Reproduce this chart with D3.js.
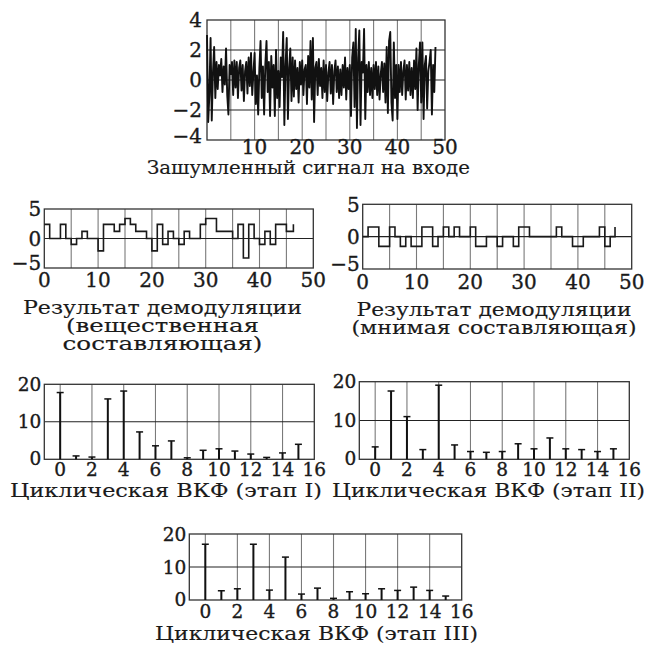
<!DOCTYPE html>
<html><head><meta charset="utf-8">
<script src="https://cdn.jsdelivr.net/npm/d3@7/dist/d3.min.js"></script>
<style>
body{margin:0;background:#fff}
svg text{font-family:"DejaVu Serif",serif;fill:#1a1a1a;stroke:#1a1a1a;stroke-width:0.35px}
svg text.title{stroke-width:0.15px}
</style>
</head><body>
<svg id="chart" width="656" height="657"></svg>
<script>
// ---------- DATA ----------
// Noisy input signal, one sample every 0.25 time units (t = 0 ... 48)
const noisySampleStep = 0.25;
const noisySignal = [
  3.0,-2.8,-1.0,2.8,  -2.7,0.5,2.2,-1.2,  1.2,-0.6,1.0,0.3,  1.4,-0.8,0.9,-0.3,
  2.1,-1.0,-2.3,1.0,  0.4,1.2,-1.0,1.3,  -0.5,1.2,-1.2,0.8,  1.3,-0.7,1.0,-1.4,
  0.6,1.2,-0.9,1.5,  -0.4,1.8,-1.0,0.5,  1.8,-1.6,0.3,-2.3,  0.8,2.6,-1.2,0.9,
  -2.3,1.0,2.6,-0.8,  1.2,-2.4,1.6,-0.5,  1.0,-2.4,2.0,-1.2,  0.6,-1.8,1.5,0.2,
  3.2,-3.0,1.0,2.8,  -2.6,0.8,2.1,-1.4,  1.5,-1.1,1.3,-0.6,  0.8,-1.5,1.2,-0.3,
  1.3,-1.0,0.7,1.0,  -1.6,1.6,-0.5,2.6,  -1.3,2.8,-2.8,0.8,  1.2,-1.0,1.4,-0.4,
  0.8,-1.2,1.3,-0.8,  1.0,-1.4,0.5,1.2,  -0.9,1.0,-1.6,0.6,  1.3,-0.8,0.9,-1.2,
  0.7,-1.0,1.0,-0.5,  1.5,-1.3,0.8,-0.6,  1.0,-2.4,1.5,2.5,  -1.8,3.4,-3.2,1.5,
  3.3,-3.0,1.2,0.5,  3.4,-2.6,1.0,-0.8,  1.2,-1.0,0.8,-1.2,  1.0,-0.6,1.2,-1.0,
  0.9,-1.3,0.4,1.2,  -0.8,1.1,-1.5,2.2,  -2.2,2.6,3.2,-1.5,  -2.7,2.5,-1.2,1.0,
  -2.6,1.0,-0.8,1.2,  -1.0,0.6,1.3,-1.3,  1.0,-0.7,1.2,-1.0,  0.8,-1.2,1.3,-0.6,
  2.1,-2.0,1.0,2.5,  -1.5,2.5,-2.6,1.0,  1.6,-1.9,0.6,1.2,  2.0,-2.3,1.0,-0.8,
  2.2
];

// Demodulated real part: one value per unit step starting at t = 0
const realDemod = [
  2.4,0,0,2.4,0,-1,0,1.2,0,0,
  -2.1,2.4,2.4,1.2,2.4,3.4,2.4,1.2,1.2,0,
  -2.1,2.4,-1,1.2,0,-1,1.2,0,0,2.4,
  3.4,3.4,1.2,1.2,1.2,0,2.4,-3.3,2.4,0,
  -1,1.2,-1,2.4,2.4,1.2
];
const realEndPoint = [46.3, 2.4];

// Demodulated imaginary part
const imagDemod = [
  0,1.5,1.5,-1.5,-1.5,1.5,0,-1.5,0,-1.5,
  -1.5,1.5,1.5,-1.5,0,1.5,0,1.5,0,0,
  1.5,-1.5,-1.5,0,0,-1.5,0,0,-1.5,1.5,
  1.5,0,0,0,0,0,1.5,0,0,-1.5,
  -1.5,0,0,0,1.5,-1.5,0
];
const imagEndPoint = [46.9, 1.5];

// Cyclic cross-correlation function, lags 0..15
const lags = [0,1,2,3,4,5,6,7,8,9,10,11,12,13,14,15];
const cvfStage1 = [17.8,0.9,0.6,16.1,18.2,7.3,3.6,4.9,0.4,2.4,2.8,2.2,1.4,0.5,1.7,4.0];
const cvfStage2 = [3.2,17.6,11.0,2.5,19.1,3.7,2.0,1.8,2.0,4.0,2.7,5.5,2.7,2.5,2.0,2.7];
const cvfStage3 = [16.9,2.8,3.4,16.9,3.0,13.0,1.8,3.6,0.5,2.5,1.9,3.4,2.9,3.9,2.9,1.2];

// Tick labels
const signalXTicks = [10,20,30,40,50];
const signalYTicks = [-4,-2,0,2,4];
const demodXTicks = [0,10,20,30,40,50];
const demodYTicks = [-5,0,5];
const cvfXTicks = [0,2,4,6,8,10,12,14,16];
const cvfYTicks = [0,10,20];

// Titles
const titleSignal = ["Зашумленный сигнал на входе"];
const titleReal = ["Результат демодуляции","(вещественная","составляющая)"];
const titleImag = ["Результат демодуляции","(мнимая составляющая)"];
const titleCvf1 = ["Циклическая ВКФ (этап I)"];
const titleCvf2 = ["Циклическая ВКФ (этап II)"];
const titleCvf3 = ["Циклическая ВКФ (этап III)"];

// ---------- DRAW ----------
const svg = d3.select("#chart");
const fmt = v => (v < 0 ? "\u2212" + Math.abs(v) : String(v));

function panel(o) {
  const g = svg.append("g");
  const x = d3.scaleLinear().domain(o.xDomain).range([o.left, o.right]);
  const y = d3.scaleLinear().domain(o.yDomain).range([o.bottom, o.top]);
  g.selectAll(".vg").data(o.vGrid).enter().append("line")
    .attr("x1", d => x(d)).attr("x2", d => x(d))
    .attr("y1", o.top).attr("y2", o.bottom)
    .attr("stroke", "#7a7a7a").attr("stroke-width", 1.1);
  g.selectAll(".hg").data(o.hGrid).enter().append("line")
    .attr("x1", o.left).attr("x2", o.right)
    .attr("y1", d => y(d)).attr("y2", d => y(d))
    .attr("stroke", "#222").attr("stroke-width", 1.1);
  g.append("rect").attr("x", o.left).attr("y", o.top)
    .attr("width", o.right - o.left).attr("height", o.bottom - o.top)
    .attr("fill", "none").attr("stroke", "#333").attr("stroke-width", 1.3);
  g.selectAll(".xt").data(o.xTicks).enter().append("text")
    .attr("x", d => x(d)).attr("y", o.bottom + o.xLabelOffset)
    .attr("text-anchor", "middle").attr("font-size", o.fontSize)
    .text(fmt);
  g.selectAll(".yt").data(o.yTicks).enter().append("text")
    .attr("x", o.left - o.yLabelGap)
    .attr("y", d => y(d) + o.fontSize * 0.36 - (d === o.yDomain[0] ? o.bottomLabelLift : 0))
    .attr("text-anchor", "end").attr("font-size", o.fontSize)
    .text(fmt);
  o.title.forEach((t, i) => {
    const w = o.titleWidths[i];
    g.append("text").attr("class", "title")
      .attr("x", o.titleX - w / 2).attr("y", o.titleY + i * o.titleLead)
      .attr("text-anchor", "start").attr("font-size", o.titleSize)
      .attr("textLength", w).attr("lengthAdjust", "spacingAndGlyphs").text(t);
  });
  return {g, x, y};
}

// 1. noisy signal
{
  const p = panel({left:207, right:445, top:20, bottom:140, xDomain:[0,50], yDomain:[-4,4],
    vGrid:[5,10,15,20,25,30,35,40,45], hGrid:[-2,0,2], xTicks:signalXTicks, yTicks:signalYTicks,
    fontSize:20, xLabelOffset:14, yLabelGap:5, bottomLabelLift:4,
    title:titleSignal, titleWidths:[323], titleX:308.5, titleY:174, titleLead:18, titleSize:18});
  const line = d3.line().x((d, i) => p.x(i * noisySampleStep)).y(d => p.y(d));
  p.g.append("path").attr("d", line(noisySignal)).attr("fill", "none")
    .attr("stroke", "#111").attr("stroke-width", 1.9).attr("stroke-linejoin", "round");
}

function stepPanel(o, values, endPt) {
  const p = panel(o);
  const pts = values.map((v, i) => [i, v]).concat([endPt]);
  const line = d3.line().curve(d3.curveStepAfter).x(d => p.x(d[0])).y(d => p.y(d[1]));
  p.g.append("path").attr("d", line(pts)).attr("fill", "none")
    .attr("stroke", "#1a1a1a").attr("stroke-width", 1.6);
}
stepPanel({left:44.3, right:313.3, top:209, bottom:268, xDomain:[0,50], yDomain:[-5,5],
  vGrid:[5,10,15,20,25,30,35,40,45], hGrid:[0], xTicks:demodXTicks, yTicks:demodYTicks,
  fontSize:20, xLabelOffset:19, yLabelGap:3, bottomLabelLift:5,
  title:titleReal, titleWidths:[279,193,200], titleX:162.5, titleY:314, titleLead:18, titleSize:18},
  realDemod, realEndPoint);
stepPanel({left:362.7, right:631.7, top:204.3, bottom:269, xDomain:[0,50], yDomain:[-5,5],
  vGrid:[5,10,15,20,25,30,35,40,45], hGrid:[0], xTicks:demodXTicks, yTicks:demodYTicks,
  fontSize:20, xLabelOffset:20, yLabelGap:3, bottomLabelLift:5,
  title:titleImag, titleWidths:[275,285], titleX:494, titleY:316, titleLead:18, titleSize:18},
  imagDemod, imagEndPoint);

function stemPanel(o, values) {
  const p = panel(o);
  const s = p.g.selectAll(".stem").data(values).enter().append("g");
  s.append("line").attr("x1", (d, i) => p.x(lags[i])).attr("x2", (d, i) => p.x(lags[i]))
    .attr("y1", p.y(0)).attr("y2", d => p.y(d))
    .attr("stroke", "#111").attr("stroke-width", 2);
  s.append("line").attr("x1", (d, i) => p.x(lags[i]) - 3.5).attr("x2", (d, i) => p.x(lags[i]) + 3.5)
    .attr("y1", d => p.y(d)).attr("y2", d => p.y(d))
    .attr("stroke", "#111").attr("stroke-width", 1.5);
}
const cvfGrid = [0,2,4,6,8,10,12,14];
stemPanel({left:44.3, right:314.3, top:384.3, bottom:459.3, xDomain:[-1,16], yDomain:[0,20],
  vGrid:cvfGrid, hGrid:[10], xTicks:cvfXTicks, yTicks:cvfYTicks,
  fontSize:18.5, xLabelOffset:17, yLabelGap:3, bottomLabelLift:1,
  title:titleCvf1, titleWidths:[312], titleX:166, titleY:497, titleLead:18, titleSize:18}, cvfStage1);
stemPanel({left:359.3, right:629.3, top:381.7, bottom:459.3, xDomain:[-1,16], yDomain:[0,20],
  vGrid:cvfGrid, hGrid:[10], xTicks:cvfXTicks, yTicks:cvfYTicks,
  fontSize:18.5, xLabelOffset:17, yLabelGap:3, bottomLabelLift:1,
  title:titleCvf2, titleWidths:[313], titleX:488.5, titleY:497, titleLead:18, titleSize:18}, cvfStage2);
stemPanel({left:189.3, right:461.7, top:534, bottom:600, xDomain:[-1,16], yDomain:[0,20],
  vGrid:cvfGrid, hGrid:[10], xTicks:cvfXTicks, yTicks:cvfYTicks,
  fontSize:18.5, xLabelOffset:18, yLabelGap:3, bottomLabelLift:1,
  title:titleCvf3, titleWidths:[323], titleX:316.5, titleY:640, titleLead:18, titleSize:18}, cvfStage3);
</script>
</body></html>
